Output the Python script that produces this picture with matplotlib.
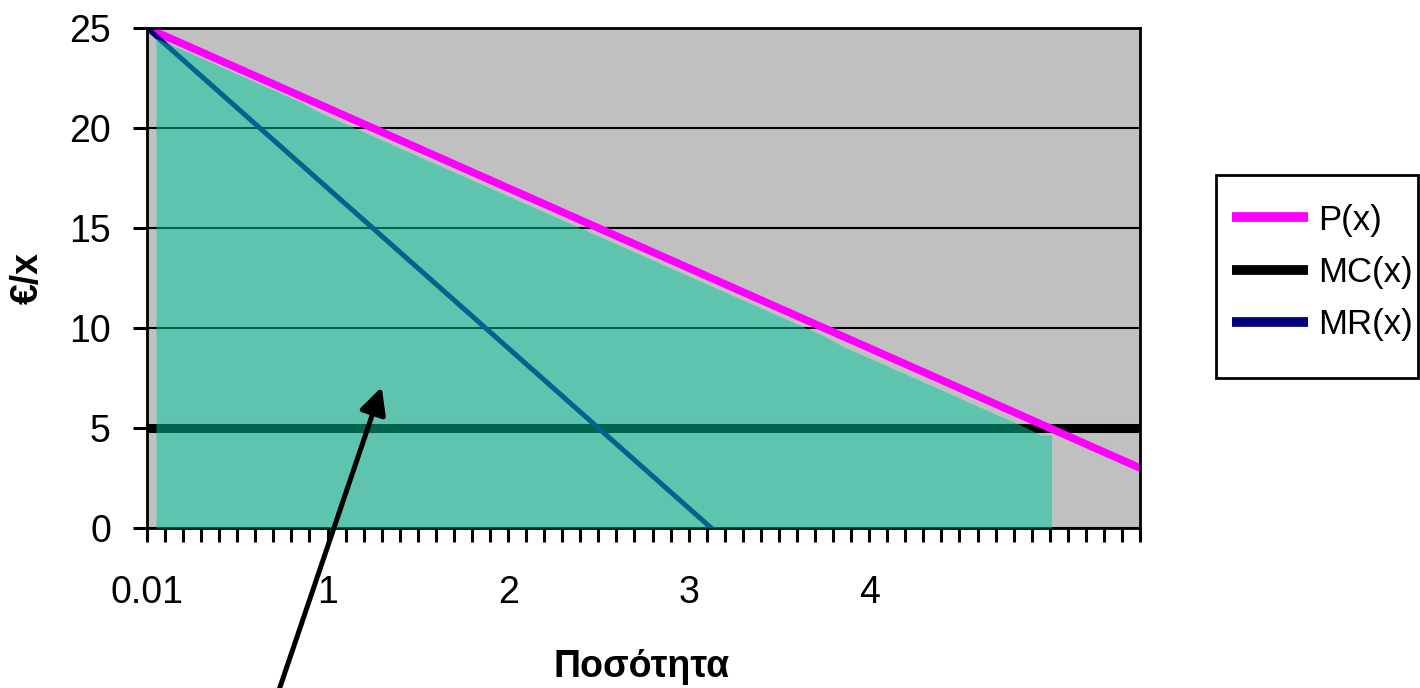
import matplotlib
matplotlib.use("Agg")
import matplotlib.pyplot as plt
from matplotlib.ticker import FixedLocator
from matplotlib.patches import Rectangle

# ---- data ----
quantity = [0.0, 0.1, 0.2, 0.3, 0.4, 0.5, 0.6, 0.7, 0.8, 0.9,
            1.0, 1.1, 1.2, 1.3, 1.4, 1.5, 1.6, 1.7, 1.8, 1.9,
            2.0, 2.1, 2.2, 2.3, 2.4, 2.5, 2.6, 2.7, 2.8, 2.9,
            3.0, 3.1, 3.2, 3.3, 3.4, 3.5, 3.6, 3.7, 3.8, 3.9,
            4.0, 4.1, 4.2, 4.3, 4.4, 4.5, 4.6, 4.7, 4.8, 4.9,
            5.0, 5.1, 5.2, 5.3, 5.4, 5.5]
price = [25.0, 24.6, 24.2, 23.8, 23.4, 23.0, 22.6, 22.2, 21.8, 21.4,
         21.0, 20.6, 20.2, 19.8, 19.4, 19.0, 18.6, 18.2, 17.8, 17.4,
         17.0, 16.6, 16.2, 15.8, 15.4, 15.0, 14.6, 14.2, 13.8, 13.4,
         13.0, 12.6, 12.2, 11.8, 11.4, 11.0, 10.6, 10.2, 9.8, 9.4,
         9.0, 8.6, 8.2, 7.8, 7.4, 7.0, 6.6, 6.2, 5.8, 5.4,
         5.0, 4.6, 4.2, 3.8, 3.4, 3.0]
marginal_cost = [5.0] * 56
mr_quantity = [0.0, 0.1, 0.2, 0.3, 0.4, 0.5, 0.6, 0.7, 0.8, 0.9,
               1.0, 1.1, 1.2, 1.3, 1.4, 1.5, 1.6, 1.7, 1.8, 1.9,
               2.0, 2.1, 2.2, 2.3, 2.4, 2.5, 2.6, 2.7, 2.8, 2.9,
               3.0, 3.1, 3.2]
marginal_revenue = [25.0, 24.2, 23.4, 22.6, 21.8, 21.0, 20.2, 19.4, 18.6, 17.8,
                    17.0, 16.2, 15.4, 14.6, 13.8, 13.0, 12.2, 11.4, 10.6, 9.8,
                    9.0, 8.2, 7.4, 6.6, 5.8, 5.0, 4.2, 3.4, 2.6, 1.8,
                    1.0, 0.2, -0.6]
area_quantity = [0.05, 0.15, 0.25, 0.35, 0.45, 0.55, 0.65, 0.75, 0.85, 0.95,
                 1.05, 1.15, 1.25, 1.35, 1.45, 1.55, 1.65, 1.75, 1.85, 1.95,
                 2.05, 2.15, 2.25, 2.35, 2.45, 2.55, 2.65, 2.75, 2.85, 2.95,
                 3.05, 3.15, 3.25, 3.35, 3.45, 3.55, 3.65, 3.75, 3.85, 3.95,
                 4.05, 4.15, 4.25, 4.35, 4.45, 4.55, 4.65, 4.75, 4.85, 4.95, 5.01]
area_values = [24.5, 24.1, 23.7, 23.3, 22.9, 22.5, 22.1, 21.7, 21.3, 20.8,
               20.4, 20.0, 19.6, 19.2, 18.8, 18.4, 18.0, 17.6, 17.2, 16.8,
               16.4, 16.0, 15.6, 15.2, 14.8, 14.4, 14.0, 13.6, 13.2, 12.8,
               12.4, 12.0, 11.6, 11.2, 10.8, 10.4, 10.0, 9.6, 9.1, 8.7,
               8.3, 7.9, 7.5, 7.1, 6.7, 6.3, 5.9, 5.5, 5.1, 4.65, 4.65]
x_tick_positions = [0, 1, 2, 3, 4]
x_tick_labels = ["0.01", "1", "2", "3", "4"]
y_ticks = [0, 5, 10, 15, 20, 25]

plt.rcParams['font.family'] = ['Liberation Sans', 'DejaVu Sans']
FS = 27

fig = plt.figure(figsize=(14.2, 6.88), dpi=100)
ax = fig.add_axes([147/1420, 1-528/688, 993/1420, 500/688])
ax.set_facecolor('#C0C0C0')

ax.set_xlim(0, 5.5)
ax.set_ylim(0, 25)

# gridlines
ax.set_axisbelow(True)
ax.yaxis.grid(True, color='black', linewidth=1.5)
ax.xaxis.grid(False)

l_p, = ax.plot(quantity, price, color='#FF00FF', linewidth=5.5, zorder=2.2,
               solid_capstyle='butt', label='P(x)')
l_mc, = ax.plot(quantity, marginal_cost, color='black', linewidth=6.5, zorder=2.1,
                solid_capstyle='butt', label='MC(x)')
l_mr, = ax.plot(mr_quantity, marginal_revenue, color='#000080', linewidth=3.6, zorder=2.3,
                solid_capstyle='butt', label='MR(x)')

ax.fill_between(area_quantity, area_values, 0, color='#00C89E', alpha=0.5,
                linewidth=0, zorder=4)

for s in ax.spines.values():
    s.set_linewidth(2)
    s.set_color('black')
    s.set_zorder(2.5)

ax.set_yticks(y_ticks)
ax.set_yticklabels([str(v) for v in y_ticks], fontsize=FS)
ax.xaxis.set_major_locator(FixedLocator(x_tick_positions))
ax.set_xticklabels(x_tick_labels, fontsize=FS)
ax.xaxis.set_minor_locator(FixedLocator(quantity))
ax.tick_params(axis='y', direction='out', length=10, width=2.2, pad=16)
ax.tick_params(axis='x', which='both', direction='out', length=10, width=2.2, pad=24)

fig.text(28/1420, 1-278/688, '€/x', rotation=90, ha='center', va='center',
         fontsize=FS, fontweight='bold')
fig.text(642/1420, 1-667/688, 'Ποσότητα', ha='center', va='center',
         fontsize=FS, fontweight='bold')

ax.annotate('', xy=(1.30, 7.05), xytext=(0.72, -8.4),
            xycoords='data', textcoords='data', annotation_clip=False,
            arrowprops=dict(arrowstyle='-|>', color='black', lw=3.6,
                            mutation_scale=40, shrinkA=0, shrinkB=0), zorder=6)

# legend box drawn separately (as in the reference, it runs to the right edge)
fig.patches.append(Rectangle((1216/1420, 1-378/688), (1418-1216)/1420, (378-175)/688,
                             transform=fig.transFigure, facecolor='white',
                             edgecolor='black', linewidth=2, zorder=1))
leg = fig.legend(handles=[l_p, l_mc, l_mr], loc='upper left',
                 bbox_to_anchor=(1216/1420, 1-188/688), borderaxespad=0,
                 fontsize=25, frameon=False, handlelength=2.2,
                 handletextpad=0.3, labelspacing=0.55, borderpad=0.45)
for h in leg.legend_handles:
    h.set_linewidth(7)

fig.savefig('out.png', dpi=100)
